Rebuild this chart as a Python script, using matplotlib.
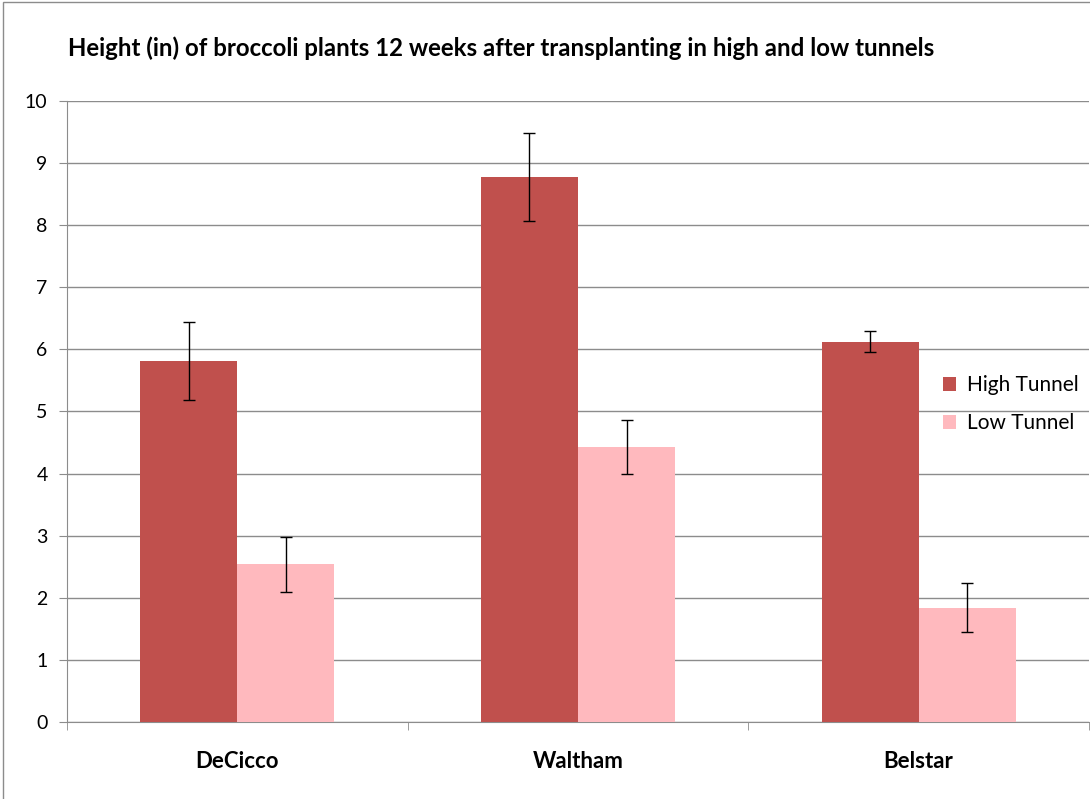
import numpy as np
import matplotlib.pyplot as plt
from matplotlib.patches import Rectangle

varieties = ["DeCicco", "Waltham", "Belstar"]
high_tunnel = [5.81, 8.78, 6.12]
high_err = [0.63, 0.71, 0.17]
low_tunnel = [2.54, 4.43, 1.84]
low_err = [0.44, 0.43, 0.39]
yticks = [0, 1, 2, 3, 4, 5, 6, 7, 8, 9, 10]

plt.rcParams["font.family"] = ["Lato", "DejaVu Sans"]

fig = plt.figure(figsize=(10.9, 7.99), dpi=100)
ax = fig.add_axes([0.0615, 0.0964, 0.9375, 0.7772])

x = np.arange(len(varieties))
w = 0.285
err_kw = dict(ecolor="black", elinewidth=1, capsize=4, capthick=1)
ax.bar(x - w / 2, high_tunnel, w, yerr=high_err, color="#C0504D",
       label="High Tunnel", error_kw=err_kw, zorder=3)
ax.bar(x + w / 2, low_tunnel, w, yerr=low_err, color="#FFB9BE",
       label="Low Tunnel", error_kw=err_kw, zorder=3)

ax.set_xlim(-0.5, 2.5)
ax.set_ylim(0, 10)
ax.set_yticks(yticks)
ax.yaxis.grid(True, color="#8c8c8c", linewidth=1)
ax.set_axisbelow(True)

ax.set_xticks(x)
ax.set_xticklabels(varieties, fontsize=16, fontweight="bold")
ax.set_xticks([-0.5, 0.5, 1.5, 2.5], minor=True)
ax.tick_params(axis="x", which="major", length=0, pad=21)
ax.tick_params(axis="x", which="minor", length=6, color="#8c8c8c", direction="out")
ax.tick_params(axis="y", length=6, color="#8c8c8c", labelsize=14, pad=8)

for s in ["top", "right"]:
    ax.spines[s].set_visible(False)
for s in ["left", "bottom"]:
    ax.spines[s].set_color("#8c8c8c")

ax.legend(loc="upper left", bbox_to_anchor=(0.857, 0.558), frameon=False,
          fontsize=15, handlelength=0.65, handleheight=0.65, labelspacing=0.85,
          handletextpad=0.5, borderpad=0, borderaxespad=0)

fig.text(0.0625, 0.94, "Height (in) of broccoli plants 12 weeks after transplanting in high and low tunnels",
         fontsize=17.3, fontweight="bold", va="center", ha="left")

fig.patches.append(Rectangle((0.003, -0.01), 1.2, 1.008, transform=fig.transFigure,
                             fill=False, edgecolor="#8c8c8c", linewidth=1))

fig.savefig("out.png", dpi=100)
